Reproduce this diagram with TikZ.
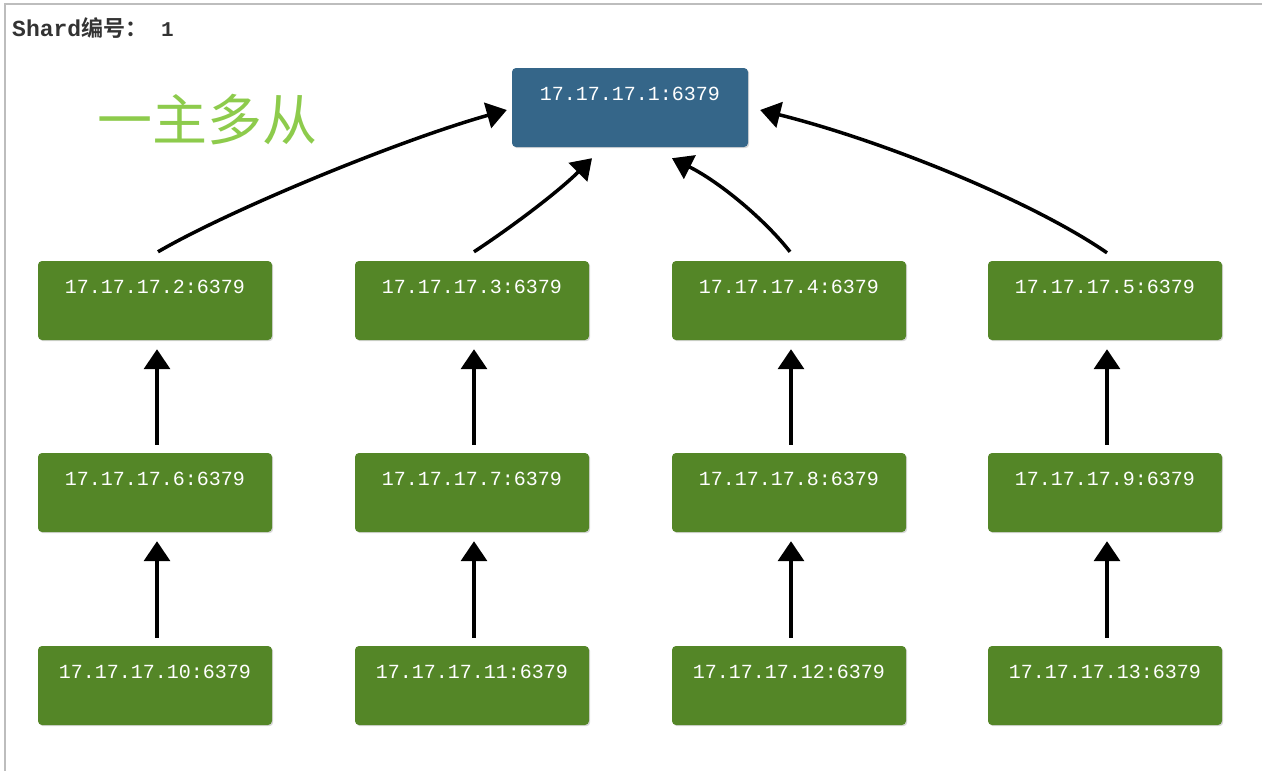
\documentclass[tikz,border=0pt]{standalone}
\usepackage{fontspec}
\setmainfont{Liberation Serif}
\newfontfamily\cjk{Noto Sans CJK SC}
\newfontfamily\cjkb{Noto Sans CJK SC Bold}
\newfontfamily\ipfont{Liberation Mono}
\newfontfamily\monob{Liberation Mono Bold}
\usetikzlibrary{arrows.meta,calc,shadows}
\definecolor{masterblue}{HTML}{356689}
\definecolor{slavegreen}{HTML}{548627}
\definecolor{titlegreen}{HTML}{8DCB4C}
\definecolor{framegray}{HTML}{BDBDBD}
\tikzset{
  box/.style={draw=none, rounded corners=4pt, minimum width=234pt, inner xsep=0pt, inner ysep=0pt,
    text height=32pt, text depth=47pt, text=white, font=\ipfont\fontsize{20pt}{22pt}\selectfont,
    drop shadow={shadow xshift=1.2pt, shadow yshift=-1.2pt, opacity=.3}},
  masterbox/.style={box, fill=masterblue, minimum width=236pt},
  slavebox/.style={box, fill=slavegreen},
  link/.style={line width=3.5pt, -{Triangle[length=20pt,width=26pt]}}
}
\begin{document}
\begin{tikzpicture}[x=1pt,y=-1pt]
\useasboundingbox (0,0) rectangle (1262,771);
\fill[white] (0,0) rectangle (1262,771);
\draw[framegray, line width=2pt] (1262,4) -- (5,4) -- (5,771);
\node[anchor=west, inner sep=0pt, text=black!80] (title) at (12,28) {{\monob\fontsize{23pt}{24pt}\selectfont Shard}{\cjkb\fontsize{22pt}{24pt}\selectfont 编号：}\hspace{14pt}{\monob\fontsize{21pt}{24pt}\selectfont 1}};
\node[inner sep=0pt, text=titlegreen, font=\cjk\fontsize{55pt}{58pt}\selectfont] (slogan) at (207,120) {一主多从};

\node[masterbox] (m) at (630,107.5) {17.17.17.1:6379};

\node[slavebox] (n2) at (155,300.5) {17.17.17.2:6379};
\node[slavebox] (n3) at (472,300.5) {17.17.17.3:6379};
\node[slavebox] (n4) at (789,300.5) {17.17.17.4:6379};
\node[slavebox] (n5) at (1105,300.5) {17.17.17.5:6379};
\node[slavebox] (n6) at (155,492.5) {17.17.17.6:6379};
\node[slavebox] (n7) at (472,492.5) {17.17.17.7:6379};
\node[slavebox] (n8) at (789,492.5) {17.17.17.8:6379};
\node[slavebox] (n9) at (1105,492.5) {17.17.17.9:6379};
\node[slavebox] (n10) at (155,685.5) {17.17.17.10:6379};
\node[slavebox] (n11) at (472,685.5) {17.17.17.11:6379};
\node[slavebox] (n12) at (789,685.5) {17.17.17.12:6379};
\node[slavebox] (n13) at (1105,685.5) {17.17.17.13:6379};

\foreach \a/\b in {6/2,7/3,8/4,9/5,10/6,11/7,12/8,13/9}{
  \draw[link] ($(n\a.north)+(2,-8)$) -- ($(n\b.south)+(2,9)$);
}

\draw[link] ($(n2.north)+(3,-9)$) .. controls +(72,-42) and +(-107,30) .. ($(m.west)+(-5,2.5)$);
\draw[link] ($(n3.north)+(2,-9)$) .. controls +(41,-27) and +(-32,32) .. ($(m.south)+(-38,11)$);
\draw[link] ($(n4.north)+(1,-9)$) .. controls +(-25,-32) and +(48,24) .. ($(m.south)+(42,11)$);
\draw[link] ($(n5.north)+(2,-8)$) .. controls +(-77,-53) and +(120,30) .. ($(m.east)+(12,2.5)$);
\end{tikzpicture}
\end{document}
